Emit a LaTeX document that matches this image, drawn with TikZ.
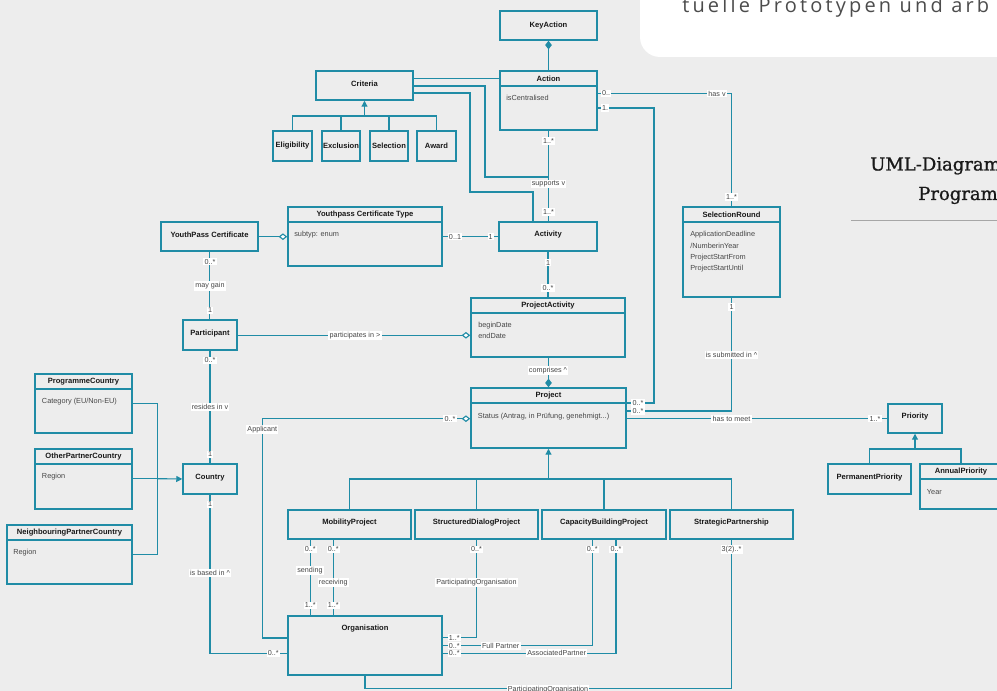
\documentclass[tikz,border=0pt]{standalone}
\usepackage{fontspec}
\setmainfont{Liberation Sans}
\newfontfamily\hdrfont[LetterSpace=16]{Open Sans}
\newfontfamily\serifhead[FakeBold=1]{DejaVu Serif}
\usetikzlibrary{arrows.meta,fit}
\definecolor{bg}{RGB}{237,237,237}
\definecolor{umlteal}{RGB}{32,140,166}
\definecolor{lblgray}{RGB}{70,70,70}
\definecolor{ttlcol}{RGB}{25,25,25}
\tikzset{
  cls/.style={draw=umlteal, line width=1.1pt, inner sep=0pt},
  sep/.style={draw=umlteal, line width=0.9pt},
  conn/.style={draw=umlteal, line width=0.85pt},
  ttl/.style={inner sep=0pt, text=ttlcol, font=\bfseries\fontsize{5.7}{6.5}\selectfont},
  attr/.style={inner sep=0pt, anchor=west, text=lblgray, font=\fontsize{5.5}{6.5}\selectfont},
  lbl/.style={fill=white, inner sep=0.9pt, text=lblgray, font=\fontsize{5.4}{6}\selectfont},
  aggr/.style={{Diamond[fill=white,length=6.5pt,width=5pt]}-},
  comp/.style={{Diamond[length=6.5pt,width=5pt]}-},
  gen/.style={-{Triangle[length=4.5pt,width=4.5pt]}},
}
\begin{document}
\begin{tikzpicture}[x=0.75pt,y=-0.75pt]
\useasboundingbox (0,0) rectangle (997,691);
\clip (0,0) rectangle (997,691);
\fill[bg] (0,0) rectangle (997,691);
% top right panel
\fill[white, rounded corners=15pt] (640,-40) rectangle (1040,57);
\node[anchor=base west, inner sep=0pt, text=black!70, font=\hdrfont\fontsize{15}{18}\selectfont] (hdr) at (682,12.5) {tuelle Prototypen und arb};
\node[anchor=base west, inner sep=0pt, text=ttlcol, font=\serifhead\fontsize{13.5}{16}\selectfont] (uml1) at (870,170.5) {UML-Diagram};
\node[anchor=base west, inner sep=0pt, text=ttlcol, font=\serifhead\fontsize{13.5}{16}\selectfont] (uml2) at (918,200) {Program};
\draw[black!35, line width=0.8pt] (851,220.7) -- (1000,220.7);

% ---------- classes ----------
\node[cls, fit={(500,11)(597,40)}] (keyaction) {};
\node[ttl] (keyaction-t) at (keyaction.center) {KeyAction};

\node[cls, fit={(500,71)(597,130)}] (action) {};
\draw[sep] (500,86) -- (597,86);
\node[ttl] (action-t) at (548.5,78.5) {Action};
\node[attr] (action-a) at (506,98) {isCentralised};

\node[cls, fit={(316,71)(413,100)}] (criteria) {};
\node[ttl] (criteria-t) at (364.5,84) {Criteria};

\node[cls, fit={(273,131)(312,161)}] (elig) {};
\node[ttl] (elig-t) at (elig.center) {Eligibility};
\node[cls, fit={(322,131)(360,161)}] (excl) {};
\node[ttl] (excl-t) at (excl.center) {Exclusion};
\node[cls, fit={(370,131)(408,161)}] (selc) {};
\node[ttl] (selc-t) at (selc.center) {Selection};
\node[cls, fit={(417,131)(456,161)}] (award) {};
\node[ttl] (award-t) at (award.center) {Award};

\node[cls, fit={(288,207)(442,266)}] (yct) {};
\draw[sep] (288,222) -- (442,222);
\node[ttl] (yct-t) at (365,214.5) {Youthpass Certificate Type};
\node[attr] (yct-a) at (294,234.5) {subtyp: enum};

\node[cls, fit={(161,222)(258,251)}] (ypc) {};
\node[ttl] (ypc-t) at (209.5,235) {YouthPass Certificate};

\node[cls, fit={(499,222)(597,251)}] (activity) {};
\node[ttl] (activity-t) at (548,235) {Activity};

\node[cls, fit={(683,207)(780,297)}] (selround) {};
\draw[sep] (683,222) -- (780,222);
\node[ttl] (selround-t) at (731.5,214.5) {SelectionRound};
\node[attr] (sr-a1) at (690,234.3) {ApplicationDeadline};
\node[attr] (sr-a2) at (690,246) {/NumberinYear};
\node[attr] (sr-a3) at (690,257.5) {ProjectStartFrom};
\node[attr] (sr-a4) at (690,268.5) {ProjectStartUntil};

\node[cls, fit={(183,320)(237,350)}] (participant) {};
\node[ttl] (participant-t) at (210,333.5) {Participant};

\node[cls, fit={(471,298)(625,357)}] (pa) {};
\draw[sep] (471,313) -- (625,313);
\node[ttl] (pa-t) at (548,305.7) {ProjectActivity};
\node[attr] (pa-a1) at (478,325.3) {beginDate};
\node[attr] (pa-a2) at (478,336.3) {endDate};

\node[cls, fit={(35,374)(132,433)}] (progc) {};
\draw[sep] (35,389) -- (132,389);
\node[ttl] (progc-t) at (83.5,381.3) {ProgrammeCountry};
\node[attr] (progc-a) at (41.7,402) {Category (EU/Non-EU)};

\node[cls, fit={(35,449)(132,509)}] (otherc) {};
\draw[sep] (35,464) -- (132,464);
\node[ttl] (otherc-t) at (83.5,456.7) {OtherPartnerCountry};
\node[attr] (otherc-a) at (41.7,476.7) {Region};

\node[cls, fit={(7,525)(132,584)}] (neighc) {};
\draw[sep] (7,540) -- (132,540);
\node[ttl] (neighc-t) at (69.5,532.3) {NeighbouringPartnerCountry};
\node[attr] (neighc-a) at (13,552.7) {Region};

\node[cls, fit={(183,464)(237,494)}] (country) {};
\node[ttl] (country-t) at (210,477.5) {Country};

\node[cls, fit={(471,388)(626,448)}] (project) {};
\draw[sep] (471,403) -- (626,403);
\node[ttl] (project-t) at (548.5,395.8) {Project};
\node[attr] (project-a) at (477.7,416.7) {Status (Antrag, in Prüfung, genehmigt...)};

\node[cls, fit={(888,404)(942,433)}] (priority) {};
\node[ttl] (priority-t) at (915,417) {Priority};

\node[cls, fit={(828,464)(911,494)}] (permprio) {};
\node[ttl] (permprio-t) at (869.5,477.5) {PermanentPriority};

\node[cls, fit={(920,464)(1002,509)}] (annprio) {};
\draw[sep] (920,479) -- (1002,479);
\node[ttl] (annprio-t) at (961,471.5) {AnnualPriority};
\node[attr] (annprio-a) at (926.7,492.3) {Year};

\node[cls, fit={(288,510)(411,539)}] (mobility) {};
\node[ttl] (mobility-t) at (349.5,523) {MobilityProject};
\node[cls, fit={(415,510)(538,539)}] (sdp) {};
\node[ttl] (sdp-t) at (476.5,523) {StructuredDialogProject};
\node[cls, fit={(542,510)(666,539)}] (cbp) {};
\node[ttl] (cbp-t) at (604,523) {CapacityBuildingProject};
\node[cls, fit={(670,510)(793,539)}] (sp) {};
\node[ttl] (sp-t) at (731.5,523) {StrategicPartnership};

\node[cls, fit={(288,616)(442,675)}] (org) {};
\node[ttl] (org-t) at (365,628.3) {Organisation};

% ---------- connectors ----------
\draw[conn, comp] (keyaction.south) -- (action.north);
\draw[conn] (criteria.east |- 0,78.3) -- (action.west |- 0,78.3);
\coordinate (supj) at (548.5,177);
\draw[conn] (criteria.east |- 0,86) -- (485,86) -- (485,177) -- (supj);
\draw[conn] (criteria.east |- 0,93) -- (470,93) -- (470,192) -- (533,192) -- (533,0 |- activity.north);
% criteria generalisation
\coordinate (cgen) at (364.5,116);
\draw[conn] (elig.north) |- (cgen);
\draw[conn] (excl.north) |- (cgen);
\draw[conn] (selc.north) |- (cgen);
\draw[conn] (award.north) |- (cgen);
\draw[conn, gen] (cgen) -- (criteria.south);

\draw[conn] (action.south) -- (action.south |- activity.north);
\node[lbl] (l-a1) at (548.5,141) {1..*};
\node[lbl] (l-a2) at (548.5,184) {supports v};
\node[lbl] (l-a3) at (548.5,212) {1..*};

\draw[conn] (action.east |- 0,93.5) -- (731.5,93.5) -- (selround.north);
\node[lbl] (l-s1) at (606,93.5) {0..};
\node[lbl] (l-s2) at (717,93.5) {has v};
\node[lbl] (l-s3) at (731.5,197) {1..*};

\draw[conn] (action.east |- 0,108) -- (654,108) -- (654,403) -- (project.east |- 0,403);
\node[lbl] (l-p1) at (605,108) {1.};
\node[lbl] (l-p2) at (638,403) {0..*};

\draw[conn] (selround.south) -- (731.5,411) -- (project.east |- 0,411);
\node[lbl] (l-r1) at (731.5,307) {1};
\node[lbl] (l-r2) at (731.5,355) {is submitted in \textasciicircum};
\node[lbl] (l-r3) at (638,411) {0..*};

\draw[conn] (project.east |- 0,418.7) -- (priority.west |- 0,418.7);
\node[lbl] (l-m1) at (731.5,418.7) {has to meet};
\node[lbl] (l-m2) at (875,418.7) {1..*};

\coordinate (pgen) at (915,449);
\draw[conn] (permprio.north) |- (pgen);
\draw[conn] (annprio.north) |- (pgen);
\draw[conn, gen] (pgen) -- (priority.south);

\draw[conn, aggr] (yct.west |- 0,236.7) -- (ypc.east |- 0,236.7);
\draw[conn] (yct.east |- 0,236.7) -- (activity.west |- 0,236.7);
\node[lbl] (l-y1) at (455,236.7) {0..1};
\node[lbl] (l-y2) at (490.7,236.7) {1};

\draw[conn] (ypc.south) -- (ypc.south |- participant.north);
\node[lbl] (l-g1) at (210,261.7) {0..*};
\node[lbl] (l-g2) at (210,286) {may gain};
\node[lbl] (l-g3) at (210,310.3) {1};

\draw[conn, aggr] (pa.west |- 0,335.3) -- (participant.east |- 0,335.3);
\node[lbl] (l-pi) at (355,335.3) {participates in >};

\draw[conn] (activity.south) -- (activity.south |- pa.north);
\node[lbl] (l-c1) at (548,262.7) {1};
\node[lbl] (l-c2) at (548,288) {0..*};

\draw[conn, comp] (project.north) -- (project.north |- pa.south);
\node[lbl] (l-cm) at (548,370.7) {comprises \textasciicircum};

\draw[conn] (participant.south) -- (country.north);
\node[lbl] (l-h1) at (210,360.3) {0..*};
\node[lbl] (l-h2) at (210,407.3) {resides in v};
\node[lbl] (l-h3) at (210,454.3) {1};

% country generalisation
\coordinate (cj) at (157.3,478.7);
\draw[conn] (progc.east |- 0,403.3) -- (157.3,403.3) -- (157.3,554.3) -- (neighc.east |- 0,554.3);
\draw[conn] (otherc.east |- 0,478.7) -- (cj);
\draw[conn, gen] (cj) -- (country.west);

\draw[conn] (country.south) -- (210,653.3) -- (org.west |- 0,653.3);
\node[lbl] (l-b1) at (210,504.3) {1};
\node[lbl] (l-b2) at (210,573.3) {is based in \textasciicircum};
\node[lbl] (l-b3) at (273.3,653.3) {0..*};

\draw[conn, aggr] (project.west |- 0,418.7) -- (262.3,418.7) -- (262.3,638) -- (org.west |- 0,638);
\node[lbl] (l-ap1) at (450,418.7) {0..*};
\node[lbl] (l-ap2) at (262.3,429.3) {Applicant};

% project generalisation
\coordinate (prgen) at (548.5,479);
\draw[conn] (mobility.north) |- (prgen);
\draw[conn] (sdp.north) |- (prgen);
\draw[conn] (cbp.north) |- (prgen);
\draw[conn] (sp.north) |- (prgen);
\draw[conn, gen] (prgen) -- (project.south);

% mobility project
\draw[conn] (310.3,0 |- mobility.south) -- (310.3,0 |- org.north);
\draw[conn] (333.3,0 |- mobility.south) -- (333.3,0 |- org.north);
\node[lbl] (l-mo1) at (310.3,549.3) {0..*};
\node[lbl] (l-mo2) at (333.3,549.3) {0..*};
\node[lbl] (l-mo3) at (310,570.7) {sending};
\node[lbl] (l-mo4) at (333.3,582.3) {receiving};
\node[lbl] (l-mo5) at (310.3,605.3) {1..*};
\node[lbl] (l-mo6) at (333.3,605.3) {1..*};

% structured dialog
\draw[conn] (sdp.south) -- (476.5,637.7) -- (org.east |- 0,637.7);
\node[lbl] (l-sd1) at (476.5,549.3) {0..*};
\node[lbl] (l-sd2) at (476.5,582.3) {ParticipatingOrganisation};
\node[lbl] (l-sd3) at (454.3,637.7) {1..*};

% capacity building
\draw[conn] (592.3,0 |- cbp.south) -- (592.3,645.7) -- (org.east |- 0,645.7);
\draw[conn] (616,0 |- cbp.south) -- (616,653.3) -- (org.east |- 0,653.3);
\node[lbl] (l-cb1) at (592.3,549.3) {0..*};
\node[lbl] (l-cb2) at (616,549.3) {0..*};
\node[lbl] (l-cb3) at (500.7,645.7) {Full Partner};
\node[lbl] (l-cb4) at (454.3,645.7) {0..*};
\node[lbl] (l-cb5) at (556.7,653.3) {AssociatedPartner};
\node[lbl] (l-cb6) at (454.3,653.3) {0..*};

% strategic partnership
\draw[conn] (org.south) -- (365,688.5) -- (731.5,688.5) -- (sp.south);
\node[lbl] (l-sp1) at (731.5,549.3) {3(2)..*};
\node[lbl] (l-sp2) at (548,689.5) {ParticipatingOrganisation};
\end{tikzpicture}
\end{document}
